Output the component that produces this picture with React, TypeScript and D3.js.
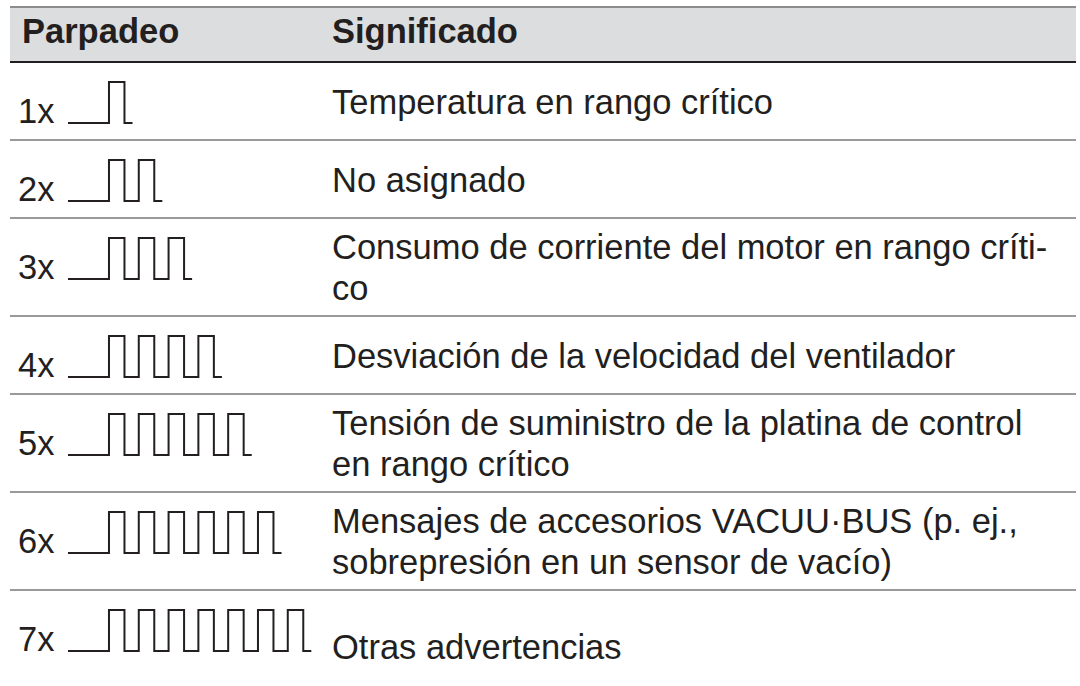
import React from "react";
import * as d3 from "d3";

// Table data
const headers = ["Parpadeo", "Significado"];
const blinkCounts = [1, 2, 3, 4, 5, 6, 7];
const blinkLabels = ["1x", "2x", "3x", "4x", "5x", "6x", "7x"];
const meanings = [
  ["Temperatura en rango crítico"],
  ["No asignado"],
  ["Consumo de corriente del motor en rango críti-", "co"],
  ["Desviación de la velocidad del ventilador"],
  ["Tensión de suministro de la platina de control", "en rango crítico"],
  ["Mensajes de accesorios VACUU·BUS (p. ej.,", "sobrepresión en un sensor de vacío)"],
  ["Otras advertencias"],
];

// Layout
const W = 1080;
const H = 686;
const LEFT = 10;
const RIGHT = 1076;
const HEAD_TOP = 7;
const HEAD_BOTTOM = 62;
const COL2_X = 332;
const FONT = "'Liberation Sans', Arial, Helvetica, sans-serif";
const FONT_SIZE = 34.5;
const LINE_GAP = 41;
const INK = "#231f20";

// pulse shape in "period" units
const LEAD = 1.375;
const HIGH = 0.52;
const TAIL = 0.27;

const pulsePoints = (n: number): [number, number][] => {
  const pts: [number, number][] = [[0, 0]];
  for (let i = 0; i < n; i++) {
    pts.push([LEAD + i, 1]);
    pts.push([LEAD + i + HIGH, 0]);
  }
  pts.push([LEAD + (n - 1) + HIGH + TAIL, 0]);
  return pts;
};

const App = () => {
  // row tops from line counts
  const rowTops: number[] = [];
  let y = HEAD_BOTTOM;
  meanings.forEach((m) => {
    rowTops.push(y);
    y += m.length > 1 ? 98 : 78;
  });

  const xWave = d3.scaleLinear().domain([0, 10]).range([68, 68 + 298]);
  const yWave = d3.scaleLinear().domain([0, 1]).range([0, -41]);
  const line = d3
    .line<[number, number]>()
    .x((d) => xWave(d[0]))
    .y((d) => yWave(d[1]))
    .curve(d3.curveStepAfter);

  return (
    <svg
      width={W}
      height={H}
      style={{ position: "absolute", left: 0, top: 0, background: "#fff" }}
      fontFamily={FONT}
    >
      {/* header */}
      <rect x={LEFT} y={HEAD_TOP} width={RIGHT - LEFT} height={HEAD_BOTTOM - HEAD_TOP} fill="#dcddde" />
      <line x1={LEFT} x2={RIGHT} y1={HEAD_TOP} y2={HEAD_TOP} stroke="#8c8c8c" strokeWidth={2} />
      <line x1={LEFT} x2={RIGHT} y1={HEAD_BOTTOM} y2={HEAD_BOTTOM} stroke={INK} strokeWidth={2} />
      <text x={22} y={43} fontSize={FONT_SIZE} fontWeight="bold" fill={INK}>
        {headers[0]}
      </text>
      <text x={COL2_X} y={43} fontSize={FONT_SIZE} fontWeight="bold" fill={INK}>
        {headers[1]}
      </text>

      {blinkCounts.map((n, i) => {
        const top = rowTops[i];
        const lines = meanings[i];
        const isLast = i === blinkCounts.length - 1;
        const textY = top + (isLast ? 69 : lines.length > 1 ? 41 : 52);
        const base = top + 61;
        return (
          <g key={n}>
            {i > 0 && (
              <line x1={LEFT} x2={RIGHT} y1={top} y2={top} stroke="#9a9a9a" strokeWidth={2} />
            )}
            <text x={18} y={base} fontSize={FONT_SIZE} fill={INK}>
              {blinkLabels[i]}
            </text>
            <path
              d={line(pulsePoints(n)) || ""}
              transform={`translate(0,${base})`}
              fill="none"
              stroke={INK}
              strokeWidth={2}
            />
            <text x={COL2_X} y={textY} fontSize={FONT_SIZE} fill={INK}>
              {lines.map((l, j) => (
                <tspan key={j} x={COL2_X} y={textY + j * LINE_GAP}>
                  {l}
                </tspan>
              ))}
            </text>
          </g>
        );
      })}
    </svg>
  );
};

export default App;
